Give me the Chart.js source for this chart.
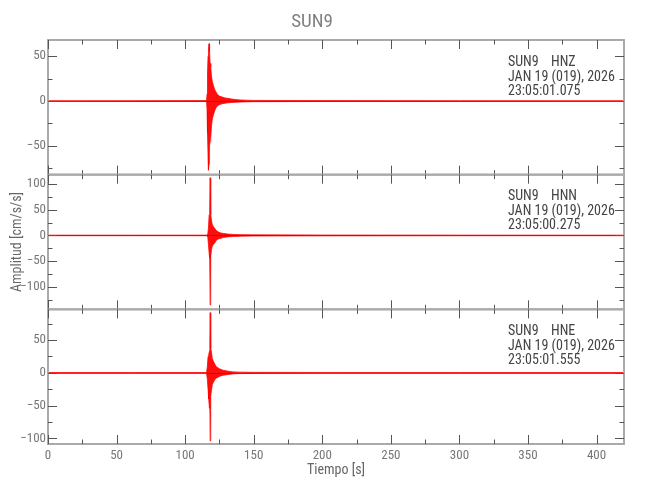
<!DOCTYPE html>
<html><head><meta charset="utf-8">
<script src="https://cdn.jsdelivr.net/npm/chart.js@4"></script>
<style>html,body{margin:0;padding:0;background:#fff}</style>
</head><body>
<canvas id="c" width="650" height="500"></canvas>
<script>
// ---------- data ----------
const xMajorTicks = [0, 50, 100, 150, 200, 250, 300, 350, 400];
const xMinorTicks = [25, 75, 125, 175, 225, 275, 325, 375];

// HNZ envelope (cm/s/s)
const tZ  = [0, 60, 115.6, 116.0, 116.3, 116.7, 117.0, 117.4, 117.8, 118.2, 118.7, 119.2, 119.8, 120.5, 121.5, 122.5, 123.5, 125, 127, 129, 131, 134, 137, 140, 145, 150, 200, 300, 420];
const upZ = [0.3, 0.4, 0.5, 8, 30, 50, 58, 64, 55, 42, 38, 28, 22, 18, 13, 10, 7.5, 5.5, 4.5, 3.5, 3, 2.2, 1.6, 1.2, 0.9, 0.7, 0.5, 0.4, 0.3];
const loZ = [-0.3, -0.4, -0.5, -10, -35, -60, -77, -70, -50, -45, -40, -28, -20, -16, -11, -7.5, -5.5, -4, -3, -2.5, -2, -1.6, -1.3, -1.1, -0.9, -0.7, -0.5, -0.4, -0.3];

// HNN envelope
const tN  = [0, 60, 115.6, 116.5, 117.0, 117.5, 117.9, 118.2, 118.5, 118.8, 119.2, 119.7, 120.4, 121.5, 122.5, 124, 125.5, 128, 131, 135, 140, 150, 200, 300, 420];
const upN = [0.5, 0.5, 0.6, 3, 15, 40, 49, 112, 45, 40, 30, 22, 18, 14, 10, 7, 5, 3.8, 2.8, 2, 1.5, 1.1, 0.8, 0.6, 0.5];
const loN = [-0.5, -0.5, -0.6, -3, -18, -35, -44, -135, -45, -40, -28, -22, -18, -15, -10, -7, -6, -3.8, -2.8, -2, -1.5, -1.1, -0.8, -0.6, -0.5];

// HNE envelope
const tE  = [0, 60, 115.6, 116.2, 116.7, 117.2, 117.7, 118.0, 118.25, 118.5, 118.8, 119.3, 119.8, 120.5, 121.7, 122.9, 125.3, 127.7, 131.4, 135, 140, 150, 200, 300, 420];
const upE = [0.4, 0.4, 0.5, 10, 25, 28, 33, 50, 92, 45, 38, 30, 22, 18, 13, 9, 6, 4, 2.6, 1.5, 1.1, 0.8, 0.6, 0.5, 0.4];
const loE = [-0.4, -0.4, -0.5, -10, -25, -40, -54, -50, -104, -45, -35, -25, -18, -15, -10, -8, -5, -3.6, -2.6, -1.5, -1.1, -0.8, -0.6, -0.5, -0.4];

const panelMin = [-82, -143.5, -108.6];
const panelMax = [68, 118, 97];
const yMajorTicks = [[-50, 0, 50], [-100, -50, 0, 50, 100], [-100, -50, 0, 50]];
const yMinorTicks = [[-75, -25, 25], [-125, -75, -25, 25, 75], [-75, -25, 25, 75]];

const stations = ['SUN9', 'SUN9', 'SUN9'];
const comps = ['HNZ', 'HNN', 'HNE'];
const dates = ['JAN 19 (019), 2026', 'JAN 19 (019), 2026', 'JAN 19 (019), 2026'];
const times = ['23:05:01.075', '23:05:00.275', '23:05:01.555'];

// ---------- chart ----------
const FONT = "'Roboto Condensed','DejaVu Sans Condensed',sans-serif";
const RED = 'rgba(255,0,0,0.95)';
const axisIds = ['yA', 'yB', 'yC'];

function band(t, up, lo, id) {
  return [
    { data: t.map((x, i) => ({ x, y: up[i] })), yAxisID: id, borderColor: RED, backgroundColor: RED,
      borderWidth: 0.8, pointRadius: 0, fill: '+1', tension: 0 },
    { data: t.map((x, i) => ({ x, y: lo[i] })), yAxisID: id, borderColor: RED, backgroundColor: RED,
      borderWidth: 0.8, pointRadius: 0, fill: false, tension: 0 }
  ];
}
const datasets = [...band(tZ, upZ, loZ, 'yA'), ...band(tN, upN, loN, 'yB'), ...band(tE, upE, loE, 'yC')];

function fmt(v) { return String(v).replace('-', '\u2212'); }

function yAxis(i) {
  return {
    type: 'linear', position: 'left', stack: 'seis', stackWeight: 1, weight: 3 - i,
    min: panelMin[i], max: panelMax[i],
    grid: { display: false, drawTicks: false }, border: { display: false },
    afterBuildTicks: s => { s.ticks = yMajorTicks[i].map(v => ({ value: v })); },
    ticks: { autoSkip: false, padding: 2, color: '#777',
      font: { family: FONT, size: 13 }, callback: v => fmt(v) },
    title: i === 1 ? { display: true, text: 'Amplitud [cm/s/s]', color: '#666',
      font: { family: FONT, size: 14, lineHeight: 1.2 }, padding: { top: 8.6, bottom: 0 } } : { display: false },
    afterFit: s => { s.width = 48; }
  };
}

const framePlugin = {
  id: 'frame',
  afterDatasetsDraw(chart) {
    const { ctx, chartArea: ca, scales } = chart;
    const xs = scales.x;
    ctx.save();
    axisIds.forEach((id, i) => {
      const ys = scales[id];
      const top = ys.getPixelForValue(panelMax[i]);
      const bot = ys.getPixelForValue(panelMin[i]);
      // zero line
      ctx.strokeStyle = 'rgba(60,0,0,0.3)'; ctx.lineWidth = 1;
      const z = Math.round(ys.getPixelForValue(0)) + 0.5;
      ctx.beginPath(); ctx.moveTo(ca.left, z); ctx.lineTo(ca.right, z); ctx.stroke();
      // frame
      ctx.strokeStyle = '#aaa'; ctx.lineWidth = 2;
      ctx.strokeRect(ca.left, top, ca.right - ca.left, bot - top);
      // ticks
      ctx.strokeStyle = '#555'; ctx.lineWidth = 1;
      ctx.beginPath();
      const xt = (vals, len) => vals.forEach(v => {
        const px = Math.round(xs.getPixelForValue(v)) + 0.5;
        ctx.moveTo(px, top); ctx.lineTo(px, top + len);
        ctx.moveTo(px, bot); ctx.lineTo(px, bot - len);
      });
      const yt = (vals, len) => vals.forEach(v => {
        const py = Math.round(ys.getPixelForValue(v)) + 0.5;
        ctx.moveTo(ca.left, py); ctx.lineTo(ca.left + len, py);
        ctx.moveTo(ca.right, py); ctx.lineTo(ca.right - len, py);
      });
      xt(xMajorTicks, 9); xt(xMinorTicks, 4.5);
      yt(yMajorTicks[i], 9); yt(yMinorTicks[i], 4.5);
      ctx.stroke();
      // info text
      ctx.fillStyle = '#444';
      ctx.font = '14px ' + FONT;
      ctx.textBaseline = 'middle'; ctx.textAlign = 'left';
      ctx.fillText(stations[i], 508, top + 22);
      ctx.fillText(comps[i], 551, top + 22);
      ctx.fillText(dates[i], 508, top + 37);
      ctx.fillText(times[i], 508, top + 51);
    });
    ctx.restore();
  }
};

new Chart(document.getElementById('c'), {
  type: 'line',
  data: { datasets },
  options: {
    responsive: false, animation: false,
    layout: { padding: { left: 0, right: 26, top: 0, bottom: 0 } },
    plugins: {
      legend: { display: false }, tooltip: { enabled: false },
      title: { display: true, text: 'SUN9', color: '#808080', font: { family: FONT, size: 19, weight: 'normal', lineHeight: 1.2 },
        padding: { top: 10.6, bottom: 6.6 } }
    },
    scales: {
      x: { type: 'linear', min: 0, max: 420,
        grid: { display: false, drawTicks: false }, border: { display: false },
        afterBuildTicks: s => { s.ticks = xMajorTicks.map(v => ({ value: v })); },
        ticks: { autoSkip: false, padding: 4, maxRotation: 0, color: '#777',
          font: { family: FONT, size: 13 }, callback: v => fmt(v) },
        title: { display: true, text: 'Tiempo [s]', color: '#666', font: { family: FONT, size: 14, lineHeight: 1.2 },
          padding: { top: 0, bottom: 21.6 } },
        afterFit: s => { s.height = 56; }
      },
      yA: yAxis(0), yB: yAxis(1), yC: yAxis(2)
    }
  },
  plugins: [framePlugin]
});
</script>
</body></html>
